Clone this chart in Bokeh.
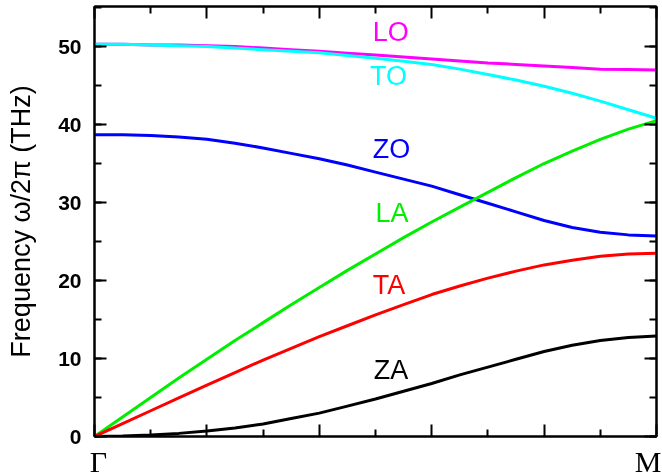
from bokeh.plotting import figure
from bokeh.models import (Range1d, LinearAxis, FixedTicker, SingleIntervalTicker,
                          CustomJSTickFormatter, ColumnDataSource)
from bokeh.core.properties import value
from bokeh.embed import file_html
from bokeh.resources import INLINE

# ---- data ----
q = [0.0, 0.05, 0.1, 0.15, 0.2, 0.25, 0.3, 0.35, 0.4, 0.45, 0.5,
     0.55, 0.6, 0.65, 0.7, 0.75, 0.8, 0.85, 0.9, 0.95, 1.0]
LO = [50.3, 50.3, 50.2, 50.2, 50.1, 50.0, 49.8, 49.6, 49.4, 49.15, 48.9,
      48.65, 48.4, 48.15, 47.9, 47.7, 47.5, 47.3, 47.1, 47.05, 47.0]
TO = [50.3, 50.3, 50.2, 50.1, 50.0, 49.8, 49.6, 49.4, 49.2, 48.85, 48.5,
      48.1, 47.7, 47.1, 46.4, 45.7, 44.9, 44.0, 43.0, 41.9, 40.8]
ZO = [38.7, 38.7, 38.6, 38.4, 38.1, 37.6, 37.0, 36.3, 35.6, 34.8, 33.9,
      33.0, 32.1, 31.0, 29.9, 28.8, 27.7, 26.8, 26.2, 25.85, 25.7]
LA = [0.0, 2.5, 5.0, 7.5, 9.9, 12.3, 14.6, 16.9, 19.1, 21.3, 23.4,
      25.5, 27.5, 29.4, 31.3, 33.2, 35.0, 36.6, 38.1, 39.4, 40.5]
TA = [0.0, 1.65, 3.3, 4.95, 6.6, 8.2, 9.8, 11.3, 12.8, 14.2, 15.6,
      16.9, 18.2, 19.3, 20.3, 21.2, 22.0, 22.6, 23.1, 23.4, 23.5]
ZA = [0.0, 0.05, 0.2, 0.4, 0.7, 1.1, 1.6, 2.3, 3.0, 3.9, 4.8,
      5.8, 6.8, 7.9, 8.9, 9.9, 10.9, 11.7, 12.3, 12.7, 12.9]

branch_names = ["LO", "TO", "ZO", "LA", "TA", "ZA"]
branch_colors = ["#FF00FF", "#00FFFF", "#0000FF", "#00EE00", "#FF0000", "#000000"]
label_x = [0.495, 0.49, 0.495, 0.5, 0.495, 0.497]
label_y = [51.8, 46.2, 36.9, 28.6, 19.4, 8.5]

x_major = [0.0, 0.2, 0.4, 0.6, 0.8, 1.0]
x_minor = [0.1, 0.3, 0.5, 0.7, 0.9]
point_names = ["Γ", "M"]
point_x = [0.007, 0.985]

# ---- figure ----
p = figure(width=662, height=485, output_backend="svg", toolbar_location=None,
           x_range=Range1d(0, 1), y_range=Range1d(0, 55.13),
           min_border_left=94, min_border_right=6, min_border_top=6,
           min_border_bottom=49, background_fill_color="white",
           border_fill_color="white")
# pinned to the window; the lowest px below the window are only the empty
# descent area of the Γ / M labels
p.styles = {"position": "fixed", "top": "0px", "left": "0px"}
p.grid.visible = False
p.outline_line_color = "black"
p.outline_line_width = 2

series = [LO, TO, ZO, LA, TA, ZA]
for ys, c in zip(series, branch_colors):
    p.line(q, ys, line_color=c, line_width=3)

src = ColumnDataSource(dict(x=label_x, y=label_y, t=branch_names, c=branch_colors))
p.text(x="x", y="y", text="t", text_color="c", source=src,
       text_font=value("Liberation Sans"), text_font_size="27px",
       text_align="left", text_baseline="middle")

# bottom axis (ticks only)
xa = p.xaxis[0]
xa.ticker = FixedTicker(ticks=x_major, minor_ticks=x_minor)
xa.formatter = CustomJSTickFormatter(code="return '';")

# second bottom axis carrying the high-symmetry point names
names_js = "[" + ",".join('"%s"' % n for n in point_names) + "]"
xp = LinearAxis(ticker=FixedTicker(ticks=point_x, minor_ticks=[]),
                formatter=CustomJSTickFormatter(
                    code="return %s[tick < 0.5 ? 0 : 1];" % names_js))
xp.axis_line_color = None
xp.major_tick_line_color = None
xp.minor_tick_line_color = None
xp.major_tick_in = 0
xp.major_tick_out = 0
xp.minor_tick_in = 0
xp.minor_tick_out = 0
xp.major_label_text_font = "Liberation Serif"
xp.major_label_text_font_size = "30px"
xp.major_label_text_color = "black"
xp.major_label_standoff = 8
p.add_layout(xp, "below")

# left axis
ya = p.yaxis[0]
ya.ticker = SingleIntervalTicker(interval=10, num_minor_ticks=2)
ya.major_label_text_font = "Liberation Sans"
ya.major_label_text_font_style = "bold"
ya.major_label_text_font_size = "21px"
ya.major_label_text_color = "black"
ya.major_label_standoff = 13
ya.axis_label = "Frequency ω/2π (THz)"
ya.axis_label_text_font = "Liberation Sans"
ya.axis_label_text_font_style = "normal"
ya.axis_label_text_font_size = "27px"
ya.axis_label_text_color = "black"
ya.axis_label_standoff = 19

# mirrored axes
top = LinearAxis(ticker=FixedTicker(ticks=x_major, minor_ticks=x_minor),
                 formatter=CustomJSTickFormatter(code="return '';"))
right = LinearAxis(ticker=SingleIntervalTicker(interval=10, num_minor_ticks=2),
                   formatter=CustomJSTickFormatter(code="return '';"))
p.add_layout(top, "above")
p.add_layout(right, "right")

for ax in [xa, ya, top, right]:
    ax.axis_line_color = "black"
    ax.axis_line_width = 2
    ax.major_tick_line_color = "black"
    ax.major_tick_line_width = 2
    ax.minor_tick_line_color = "black"
    ax.minor_tick_line_width = 2
    ax.major_tick_in = 12
    ax.major_tick_out = 0
    ax.minor_tick_in = 7
    ax.minor_tick_out = 0
for ax in [xa, top, right]:
    ax.major_label_standoff = 0
    ax.major_label_text_font_size = "0px"

open("out.html", "w").write(file_html(p, INLINE))
